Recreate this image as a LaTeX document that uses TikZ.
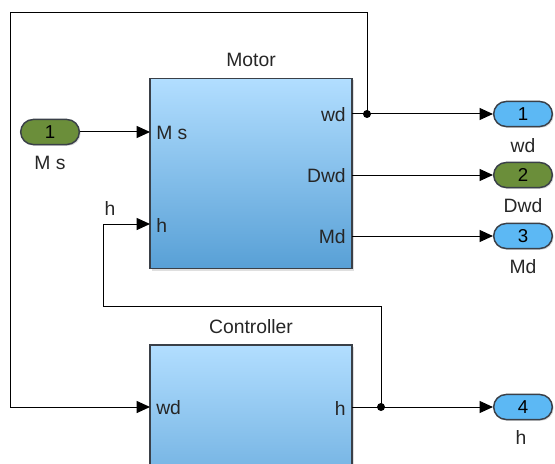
\documentclass[tikz,border=0pt]{standalone}
\usepackage{fontspec}
\setmainfont{Liberation Sans}
\usetikzlibrary{arrows.meta,shadows}

\definecolor{simgreen}{RGB}{107,142,58}
\definecolor{simblue}{RGB}{92,184,244}
\definecolor{blocktop}{RGB}{178,222,255}
\definecolor{blockmid}{RGB}{160,208,245}
\definecolor{blockbot}{RGB}{88,160,214}
\definecolor{edgegray}{RGB}{58,64,72}

\tikzset{
  block/.style={draw=edgegray, line width=1.4pt, top color=blocktop, middle color=blockmid,
    bottom color=blockbot, minimum width=151.5pt, minimum height=142.5pt,
    drop shadow={shadow xshift=1.5pt, shadow yshift=-1.5pt, opacity=0.25}},
  port/.style={draw=edgegray, line width=1.1pt, rounded corners=9.4pt, minimum width=44pt,
    minimum height=18.8pt, inner sep=0pt, font=\fontsize{14}{16}\selectfont,
    drop shadow={shadow xshift=1pt, shadow yshift=-1pt, opacity=0.25}},
  inport/.style={port, fill=simgreen},
  outport/.style={port, fill=simblue},
  sig/.style={line width=0.75pt, -{Triangle[length=10pt,width=9pt]}},
  lbl/.style={inner sep=0.75pt, text=black!85, font=\fontsize{14.5}{16}\selectfont}
}

\begin{document}
\begin{tikzpicture}[x=0.75pt,y=0.75pt,yscale=-1,xscale=1]
\useasboundingbox (0,0) rectangle (555,463);
\clip (0,0) rectangle (555,463);

% Blocks
\node [block] (motor) at (251,173.5) {};
\node [block] (ctrl) at (251,440) {};
\node [lbl, anchor=south] (motortitle) at (251,68) {Motor};
\node [lbl, anchor=south] (ctrltitle) at (251,335) {Controller};

% Port points on the blocks
\coordinate (motor-ms) at (150,132);
\coordinate (motor-h) at (150,224);
\coordinate (motor-wd) at (352,114);
\coordinate (motor-dwd) at (352,175);
\coordinate (motor-md) at (352,236);
\coordinate (ctrl-wd) at (150,407);
\coordinate (ctrl-h) at (352,407);

% Port labels
\node [lbl, anchor=west] (lms) at (155,133) {M s};
\node [lbl, anchor=west] (lhin) at (155,225) {h};
\node [lbl, anchor=east] (lwd) at (347,115) {wd};
\node [lbl, anchor=east] (ldwd) at (347,176) {Dwd};
\node [lbl, anchor=east] (lmd) at (347,237) {Md};
\node [lbl, anchor=west] (lcwd) at (155,408) {wd};
\node [lbl, anchor=east] (lch) at (347,408) {h};

% In and out ports
\node [inport] (in1) at (50,132) {1};
\node [outport] (out1) at (523,114) {1};
\node [inport] (out2) at (523,175) {2};
\node [outport] (out3) at (523,236) {3};
\node [outport] (out4) at (523,407) {4};

\node [lbl, anchor=north] (nin1) at (50,155) {M s};
\node [lbl, anchor=north] (nout1) at (523,137) {wd};
\node [lbl, anchor=north] (nout2) at (523,197) {Dwd};
\node [lbl, anchor=north] (nout3) at (523,258) {Md};
\node [lbl, anchor=north] (nout4) at (521,429) {h};
\node [lbl, anchor=south] (nh) at (110,217) {h};

% Branch points and corners
\coordinate (j1) at (367,114);
\coordinate (j2) at (381,407);
\coordinate (c1) at (10,13);
\coordinate (c2) at (103,306);

% Signals
\draw [sig] (in1) -- (motor-ms);
\draw [sig] (motor-wd) -- (out1);
\draw [sig] (motor-dwd) -- (out2);
\draw [sig] (motor-md) -- (out3);
\draw [sig] (ctrl-h) -- (out4);
\draw [sig] (j1) |- (c1) |- (ctrl-wd);
\draw [sig] (j2) |- (c2) |- (motor-h);
\fill (j1) circle (4);
\fill (j2) circle (4);

\end{tikzpicture}
\end{document}
